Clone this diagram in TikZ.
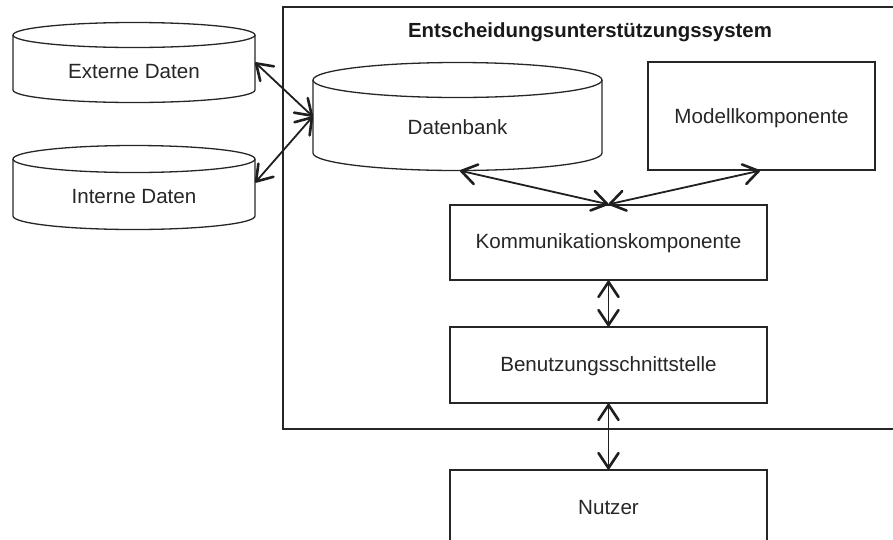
\documentclass[tikz,border=0pt]{standalone}
\usepackage{fontspec}
\setmainfont{Liberation Sans}
\usetikzlibrary{arrows.meta,calc}
\newcommand\mycyl[5]{%
  \draw[cylline] ({#1-#2},{-#3}) -- ({#1-#2},{-#4})
     arc[start angle=180,end angle=360,x radius=#2,y radius=#5] -- ({#1+#2},{-#3});
  \draw[cylline] (#1,{-#3}) ellipse[x radius=#2,y radius=#5];}
\tikzset{
  cylline/.style={line width=1.3pt, draw=black!85},
  boxstyle/.style={draw=black!85, line width=1.3pt, rectangle, inner sep=0pt},
  ghost/.style={rectangle, inner sep=0pt},
  lbl/.style={font=\fontsize{20.6pt}{24pt}\selectfont, text=black!85, inner sep=0pt},
  ttl/.style={font=\fontsize{20.4pt}{24pt}\selectfont\bfseries, text=black!90, inner sep=0pt},
  barbtip/.tip={Straight Barb[length=15pt,width=20pt,line width=2.6pt,round]},
  biarrow/.style={barbtip-barbtip, line width=1.8pt, draw=black!88},
}
\begin{document}
\begin{tikzpicture}[x=1pt,y=1pt]
\useasboundingbox (0,0) rectangle (893,-539);
\clip (0,0) rectangle (893,-539);
% outer system box
\node[boxstyle, minimum width=627pt, minimum height=422pt] (dss) at (596.5,-218) {};
\node[ttl] (title) at (590,-32) {Entscheidungsunterstützungssystem};
% cylinders
\mycyl{134}{121}{35}{90}{12.5}
\node[ghost, minimum width=242pt, minimum height=80pt] (ext) at (134,-62.5) {};
\node[lbl] (extl) at (134,-72) {Externe Daten};
\mycyl{134}{121}{159}{216}{13.5}
\node[ghost, minimum width=242pt, minimum height=84pt] (int) at (134,-187.5) {};
\node[lbl] (intl) at (134,-197) {Interne Daten};
\mycyl{457.5}{144.5}{80}{153}{17.5}
\node[ghost, minimum width=289pt, minimum height=108pt] (db) at (457.5,-116.5) {};
\node[lbl] (dbl) at (457.5,-127) {Datenbank};
% boxes
\node[boxstyle, minimum width=227pt, minimum height=108pt] (mod) at (761.5,-116) {};
\node[lbl] (modl) at (761.5,-118) {Modellkomponente};
\node[boxstyle, minimum width=317pt, minimum height=75pt] (kom) at (608.5,-242.5) {};
\node[lbl] (koml) at (608.5,-243) {Kommunikationskomponente};
\node[boxstyle, minimum width=317pt, minimum height=76pt] (ben) at (608.5,-365) {};
\node[lbl] (benl) at (608.5,-366) {Benutzungsschnittstelle};
\node[boxstyle, minimum width=317pt, minimum height=76pt] (nut) at (608.5,-508) {};
\node[lbl] (nutl) at (608.5,-508) {Nutzer};
% connectors
\draw[biarrow] (ext.east) -- (db.west);
\draw[biarrow] ($(int.east)+(0,5)$) -- (db.west);
\draw[biarrow] ($(db.south)+(2.5,0)$) -- (kom.north);
\draw[biarrow] ($(mod.south)+(-1.5,0)$) -- (kom.north);
\draw[biarrow] (kom.south) -- (ben.north);
\draw[biarrow] (ben.south) -- (nut.north);
\end{tikzpicture}
\end{document}
